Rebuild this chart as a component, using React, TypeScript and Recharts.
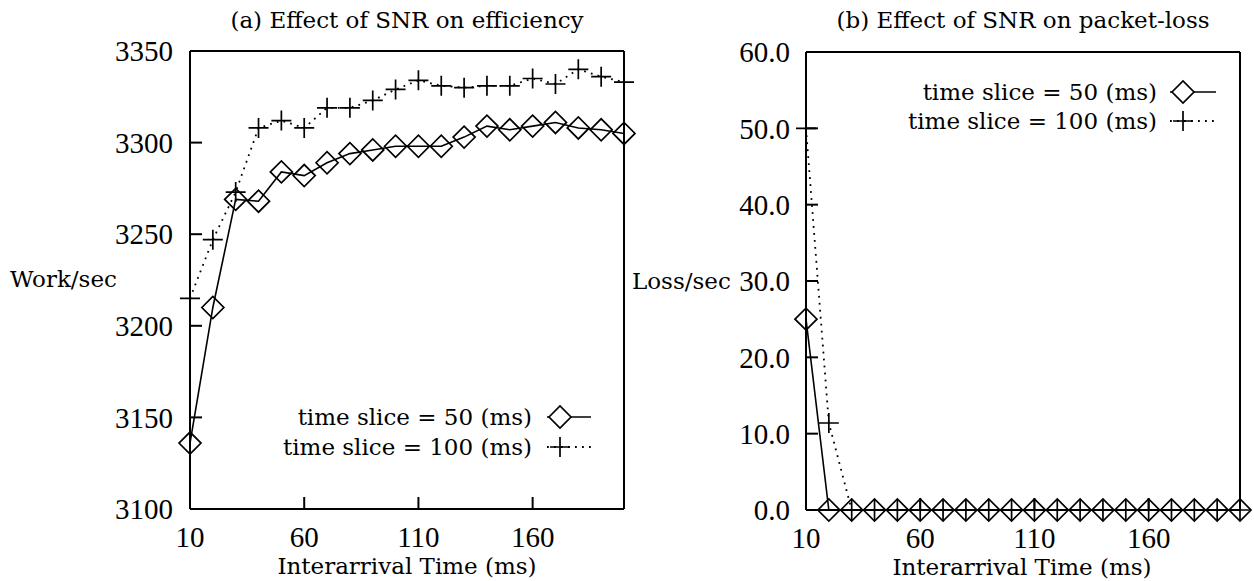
import React from 'react';
import { LineChart, Line, XAxis, YAxis } from 'recharts';

// ---------- data ----------
const interarrival = [10, 20, 30, 40, 50, 60, 70, 80, 90, 100, 110, 120, 130, 140, 150, 160, 170, 180, 190, 200];
const workSlice50 = [3136, 3210, 3269, 3268, 3284, 3282, 3289, 3294, 3296, 3298, 3298, 3298, 3303, 3309, 3307, 3309, 3311, 3308, 3307, 3305];
const workSlice100 = [3215, 3247, 3273, 3308, 3312, 3308, 3319, 3319, 3323, 3329, 3334, 3331, 3330, 3331, 3331, 3335, 3332, 3340, 3336, 3333];
const lossSlice50 = [25, 0, 0, 0, 0, 0, 0, 0, 0, 0, 0, 0, 0, 0, 0, 0, 0, 0, 0, 0];
const lossSlice100 = [50, 11.4, 0, 0, 0, 0, 0, 0, 0, 0, 0, 0, 0, 0, 0, 0, 0, 0, 0, 0];

const xTicks = [10, 60, 110, 160];
const workTicks = [3100, 3150, 3200, 3250, 3300, 3350];
const lossTicks = [0, 10, 20, 30, 40, 50, 60];

const titleA = '(a) Effect of SNR on efficiency';
const titleB = '(b) Effect of SNR on packet-loss';
const xLabel = 'Interarrival Time (ms)';
const yLabelA = 'Work/sec';
const yLabelB = 'Loss/sec';
const legend50 = 'time slice = 50 (ms)';
const legend100 = 'time slice = 100 (ms)';

const dataA = interarrival.map((t, i) => ({ t, s50: workSlice50[i], s100: workSlice100[i] }));
const dataB = interarrival.map((t, i) => ({ t, s50: lossSlice50[i], s100: lossSlice100[i] }));

// ---------- styles ----------
const TICK_FONT = "'Liberation Serif', 'Times New Roman', serif";
const TEXT_FONT = "'DejaVu Serif', serif";
const tickStyle = { fontFamily: TICK_FONT, fontSize: 29, fill: '#000' };
const AX = { stroke: '#000', strokeWidth: 2 };
const DOTTED = '1.8 5.2';

const diamondPath = (x: number, y: number, r: number) =>
  `M${x - r},${y} L${x},${y - r} L${x + r},${y} L${x},${y + r} Z`;
const plusPath = (x: number, y: number, r: number) =>
  `M${x - r},${y} L${x + r},${y} M${x},${y - r} L${x},${y + r}`;

const DiamondDot = (props: any) => {
  const { cx, cy, index } = props;
  if (cx == null || cy == null) return null;
  return <path key={`d${index}`} d={diamondPath(cx, cy, 11)} fill="none" stroke="#000" strokeWidth={1.7} />;
};
const PlusDot = (props: any) => {
  const { cx, cy, index } = props;
  if (cx == null || cy == null) return null;
  return <path key={`p${index}`} d={plusPath(cx, cy, 10)} fill="none" stroke="#000" strokeWidth={1.7} />;
};

const Txt = ({ x, y, anchor = 'middle', size = 23, children }: any) => (
  <text x={x} y={y} textAnchor={anchor} fontFamily={TEXT_FONT} fontSize={size} fill="#000">
    {children}
  </text>
);

const LegendBlock = ({ textRight, y1, y2, mx, x0, x1 }: any) => (
  <g>
    <Txt x={textRight} y={y1 + 8} anchor="end">{legend50}</Txt>
    <line x1={x0} x2={x1} y1={y1} y2={y1} stroke="#000" strokeWidth={1.6} />
    <path d={diamondPath(mx, y1, 11)} fill="#fff" stroke="#000" strokeWidth={1.7} />
    <Txt x={textRight} y={y2 + 8} anchor="end">{legend100}</Txt>
    <line x1={x0} x2={x1} y1={y2} y2={y2} stroke="#000" strokeWidth={1.8} strokeDasharray={DOTTED} />
    <path d={plusPath(mx, y2, 10)} fill="none" stroke="#000" strokeWidth={1.7} />
  </g>
);

// chart B offset on the page
const BX = 620;

export default function App() {
  return (
    <div style={{ position: 'absolute', left: 0, top: 0, width: 1254, height: 581, background: '#fff' }}>
      {/* ---------------- Chart A ---------------- */}
      <div style={{ position: 'absolute', left: 0, top: 0 }}>
        <LineChart width={640} height={581} data={dataA} margin={{ top: 0, right: 0, bottom: 0, left: 0 }}>
          <XAxis
            xAxisId="bottom"
            dataKey="t"
            type="number"
            domain={[10, 200]}
            ticks={xTicks}
            interval={0}
            height={72}
            tickSize={-12}
            tickMargin={29}
            tick={tickStyle}
            axisLine={AX}
            tickLine={AX}
            label={() => <Txt x={407} y={574}>{xLabel}</Txt>}
          />
          <XAxis
            xAxisId="top"
            orientation="top"
            dataKey="t"
            type="number"
            domain={[10, 200]}
            ticks={xTicks}
            interval={0}
            height={51}
            tickSize={-12}
            tick={false}
            axisLine={AX}
            tickLine={AX}
            label={() => <Txt x={407} y={28}>{titleA}</Txt>}
          />
          <YAxis
            yAxisId="left"
            type="number"
            domain={[3100, 3350]}
            ticks={workTicks}
            interval={0}
            width={190}
            tickSize={-12}
            tickMargin={29}
            tick={tickStyle}
            axisLine={AX}
            tickLine={AX}
            label={() => <Txt x={10} y={287} anchor="start">{yLabelA}</Txt>}
          />
          <YAxis
            yAxisId="right"
            orientation="right"
            type="number"
            domain={[3100, 3350]}
            ticks={workTicks}
            interval={0}
            width={16}
            tickSize={-12}
            tick={false}
            axisLine={AX}
            tickLine={AX}
            label={() => <LegendBlock textRight={532} y1={417} y2={447} mx={560} x0={547} x1={591} />}
          />
          <Line
            xAxisId="bottom"
            yAxisId="left"
            dataKey="s100"
            type="linear"
            stroke="#000"
            strokeWidth={1.8}
            strokeDasharray={DOTTED}
            dot={PlusDot}
            activeDot={false}
            isAnimationActive={false}
          />
          <Line
            xAxisId="bottom"
            yAxisId="left"
            dataKey="s50"
            type="linear"
            stroke="#000"
            strokeWidth={1.6}
            dot={DiamondDot}
            activeDot={false}
            isAnimationActive={false}
          />
        </LineChart>
      </div>

      {/* ---------------- Chart B ---------------- */}
      <div style={{ position: 'absolute', left: BX, top: 0 }}>
        <LineChart width={634} height={581} data={dataB} margin={{ top: 0, right: 0, bottom: 0, left: 0 }}>
          <XAxis
            xAxisId="bottom"
            dataKey="t"
            type="number"
            domain={[10, 200]}
            ticks={xTicks}
            interval={0}
            height={71}
            tickSize={-12}
            tickMargin={29}
            tick={tickStyle}
            axisLine={AX}
            tickLine={AX}
            label={() => <Txt x={1022 - BX} y={575}>{xLabel}</Txt>}
          />
          <XAxis
            xAxisId="top"
            orientation="top"
            dataKey="t"
            type="number"
            domain={[10, 200]}
            ticks={xTicks}
            interval={0}
            height={52}
            tickSize={-12}
            tick={false}
            axisLine={AX}
            tickLine={AX}
            label={() => <Txt x={1023 - BX} y={28}>{titleB}</Txt>}
          />
          <YAxis
            yAxisId="left"
            type="number"
            domain={[0, 60]}
            ticks={lossTicks}
            interval={0}
            width={186}
            tickSize={-12}
            tickMargin={28}
            tick={tickStyle}
            tickFormatter={(v: number) => v.toFixed(1)}
            axisLine={AX}
            tickLine={AX}
            label={() => <Txt x={632 - BX} y={289} anchor="start">{yLabelB}</Txt>}
          />
          <YAxis
            yAxisId="right"
            orientation="right"
            type="number"
            domain={[0, 60]}
            ticks={lossTicks}
            interval={0}
            width={14}
            tickSize={-12}
            tick={false}
            axisLine={AX}
            tickLine={AX}
            label={() => (
              <LegendBlock textRight={1157 - BX} y1={92} y2={121} mx={1183 - BX} x0={1170 - BX} x1={1216 - BX} />
            )}
          />
          <Line
            xAxisId="bottom"
            yAxisId="left"
            dataKey="s100"
            type="linear"
            stroke="#000"
            strokeWidth={1.8}
            strokeDasharray={DOTTED}
            dot={PlusDot}
            activeDot={false}
            isAnimationActive={false}
          />
          <Line
            xAxisId="bottom"
            yAxisId="left"
            dataKey="s50"
            type="linear"
            stroke="#000"
            strokeWidth={1.6}
            dot={DiamondDot}
            activeDot={false}
            isAnimationActive={false}
          />
        </LineChart>
      </div>
    </div>
  );
}
